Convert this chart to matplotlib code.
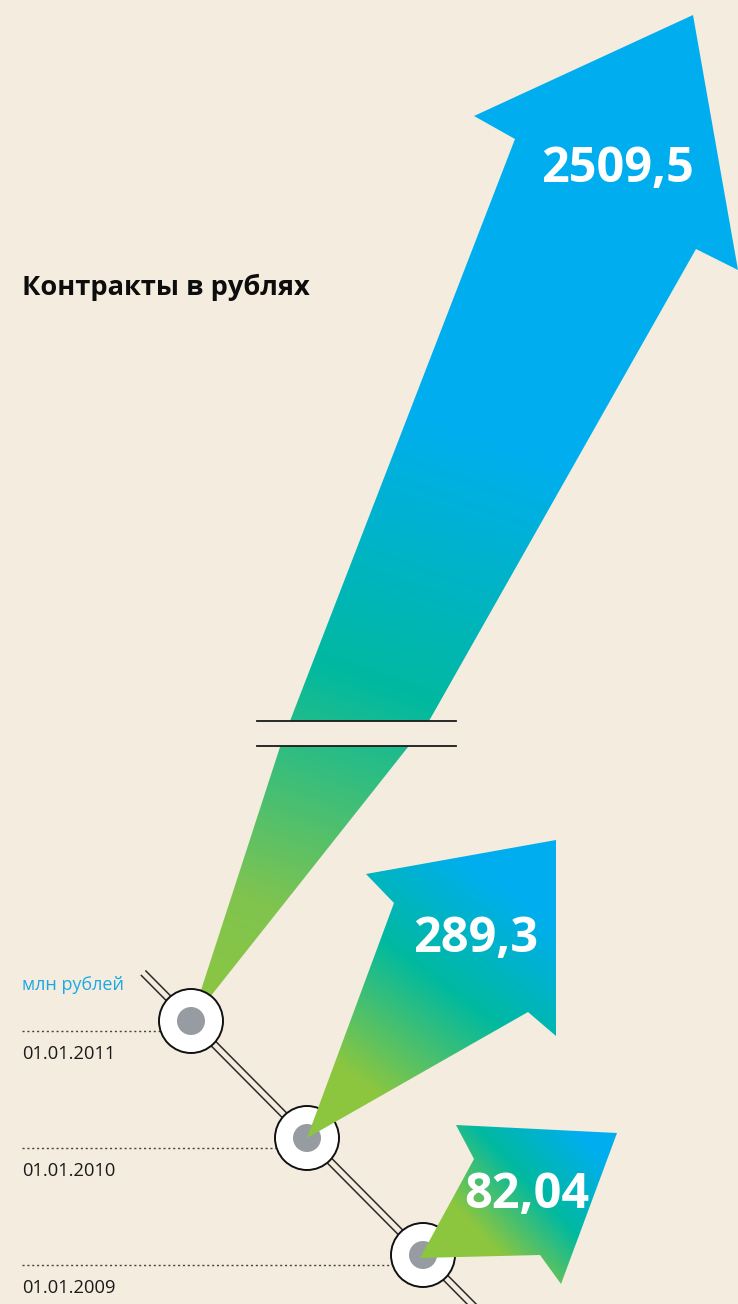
import numpy as np
import matplotlib
matplotlib.use("Agg")
import matplotlib.pyplot as plt
from matplotlib.patches import Polygon, Circle, Rectangle
from matplotlib.colors import LinearSegmentedColormap

# ---------------- data ----------------
dates = ["01.01.2009", "01.01.2010", "01.01.2011"]
values = [82.04, 289.3, 2509.5]
value_labels = ["82,04", "289,3", "2509,5"]
title = "Контракты в рублях"
unit_label = "млн рублей"

# ---------------- layout ----------------
W, H = 738, 1304
BG = "#f4ecde"
GREEN, TEAL, BLUE = "#8dc63f", "#00b9a0", "#00aeef"

fig = plt.figure(figsize=(W / 100, H / 100), dpi=100)
fig.patch.set_facecolor(BG)
ax = fig.add_axes([0, 0, 1, 1])
ax.set_facecolor(BG)
ax.set_xlim(0, W)
ax.set_ylim(H, 0)
ax.axis("off")

# anchor points (circle centres) for each date
anchors = [(423, 1255), (307, 1138), (191, 1021)]

# arrow outlines as offsets from the anchor (layout only)
arrow_shapes = [
    # 82,04
    [(-3, 3), (51, -96), (33, -130), (194, -122), (138, 29), (117, 0)],
    # 289,3
    [(0, 0), (87, -235), (59, -264), (249, -298), (249, -102), (221, -126)],
    # 2509,5
    [(0, 0), (89, -274), (99, -300), (324, -882), (283, -905), (502, -1006),
     (547, -751), (505, -772), (238, -300), (217, -274)],
]
grad_dirs = [(1.07, -1.0), (0.74, -1.0), (0.35, -1.0)]
grad_stops = [
    [(0.0, GREEN), (0.27, "#8cc640"), (0.57, TEAL), (0.88, BLUE), (1.0, BLUE)],
    [(0.0, GREEN), (0.2, "#8cc640"), (0.53, TEAL), (0.82, BLUE), (1.0, BLUE)],
    [(0.0, GREEN), (0.12, "#80c44f"), (0.34, TEAL), (0.58, BLUE), (1.0, BLUE)],
]
label_pos = [(527, 1208), (476, 952), (618, 182)]

xs = np.arange(W) + 0.5
ys = np.arange(H) + 0.5
GX, GY = np.meshgrid(xs, ys)


def gradient_polygon(verts, direction, stops, zorder):
    verts = np.asarray(verts, dtype=float)
    poly = Polygon(verts, closed=True, facecolor="none", edgecolor="none", zorder=zorder)
    ax.add_patch(poly)
    d = np.asarray(direction, dtype=float)
    d = d / np.hypot(*d)
    proj = GX * d[0] + GY * d[1]
    pv = verts @ d
    t = (proj - pv.min()) / (pv.max() - pv.min())
    cmap = LinearSegmentedColormap.from_list("g", stops)
    im = ax.imshow(t, cmap=cmap, vmin=0, vmax=1, extent=(0, W, H, 0),
                   origin="upper", zorder=zorder, interpolation="bilinear",
                   aspect="auto")
    im.set_clip_path(poly)
    return poly


# double track line
(x0, y0), (x2, y2) = anchors[2], anchors[0]
dx, dy = (x2 - x0), (y2 - y0)
L = np.hypot(dx, dy)
ux, uy = dx / L, dy / L
nx, ny = -uy, ux
for s in (-3.2, 3.2):
    sx, sy = x0 - ux * 68 + nx * s, y0 - uy * 68 + ny * s
    ex, ey = x2 + ux * 90 + nx * s, y2 + uy * 90 + ny * s
    ax.plot([sx, ex], [sy, ey], color="#2b2b2b", lw=1.1, zorder=1,
            solid_capstyle="butt")

# dotted guide lines and date labels
for (cx, cy), d in zip(anchors, dates):
    ax.plot([22, cx], [cy + 10, cy + 10], color="#444444", lw=1.0,
            linestyle=(0, (1.5, 2.0)), zorder=1)
    ax.text(22, cy + 38, d, fontsize=13.2, family="Open Sans", color="#1a1a1a",
            ha="left", va="baseline", zorder=6)

# arrows
order_z = [5, 5, 2]
for i in range(3):
    ax_, ay_ = anchors[i]
    verts = [(ax_ + ox, ay_ + oy) for ox, oy in arrow_shapes[i]]
    gradient_polygon(verts, grad_dirs[i], grad_stops[i], order_z[i])

# axis break on the big arrow
ax.add_patch(Rectangle((257, 721), 199, 25, facecolor=BG, edgecolor="none", zorder=3))
for yb in (721, 746):
    ax.plot([257, 456], [yb, yb], color="#1a1a1a", lw=1.3, zorder=3.5)

# circles
for cx, cy in anchors:
    ax.add_patch(Circle((cx, cy), 32, facecolor="white", edgecolor="#111111",
                        lw=1.4, zorder=4))
    ax.add_patch(Circle((cx, cy), 14, facecolor="#969ca1", edgecolor="none",
                        zorder=4.1))

# value labels
for (lx, ly), lab in zip(label_pos, value_labels):
    ax.text(lx, ly, lab, fontsize=35, family="Open Sans", fontweight="bold",
            color="white", ha="center", va="baseline", zorder=7)

# title and unit
ax.text(22, 295, title, fontsize=19.6, family="Open Sans", fontweight="bold",
        color="#0d0d0d", ha="left", va="baseline", zorder=7)
ax.text(22, 990, unit_label, fontsize=13, family="Open Sans", color="#1ba9e6",
        ha="left", va="baseline", zorder=7)

ax.set_xlim(0, W)
ax.set_ylim(H, 0)
fig.savefig("out.png", dpi=100, facecolor=BG)
